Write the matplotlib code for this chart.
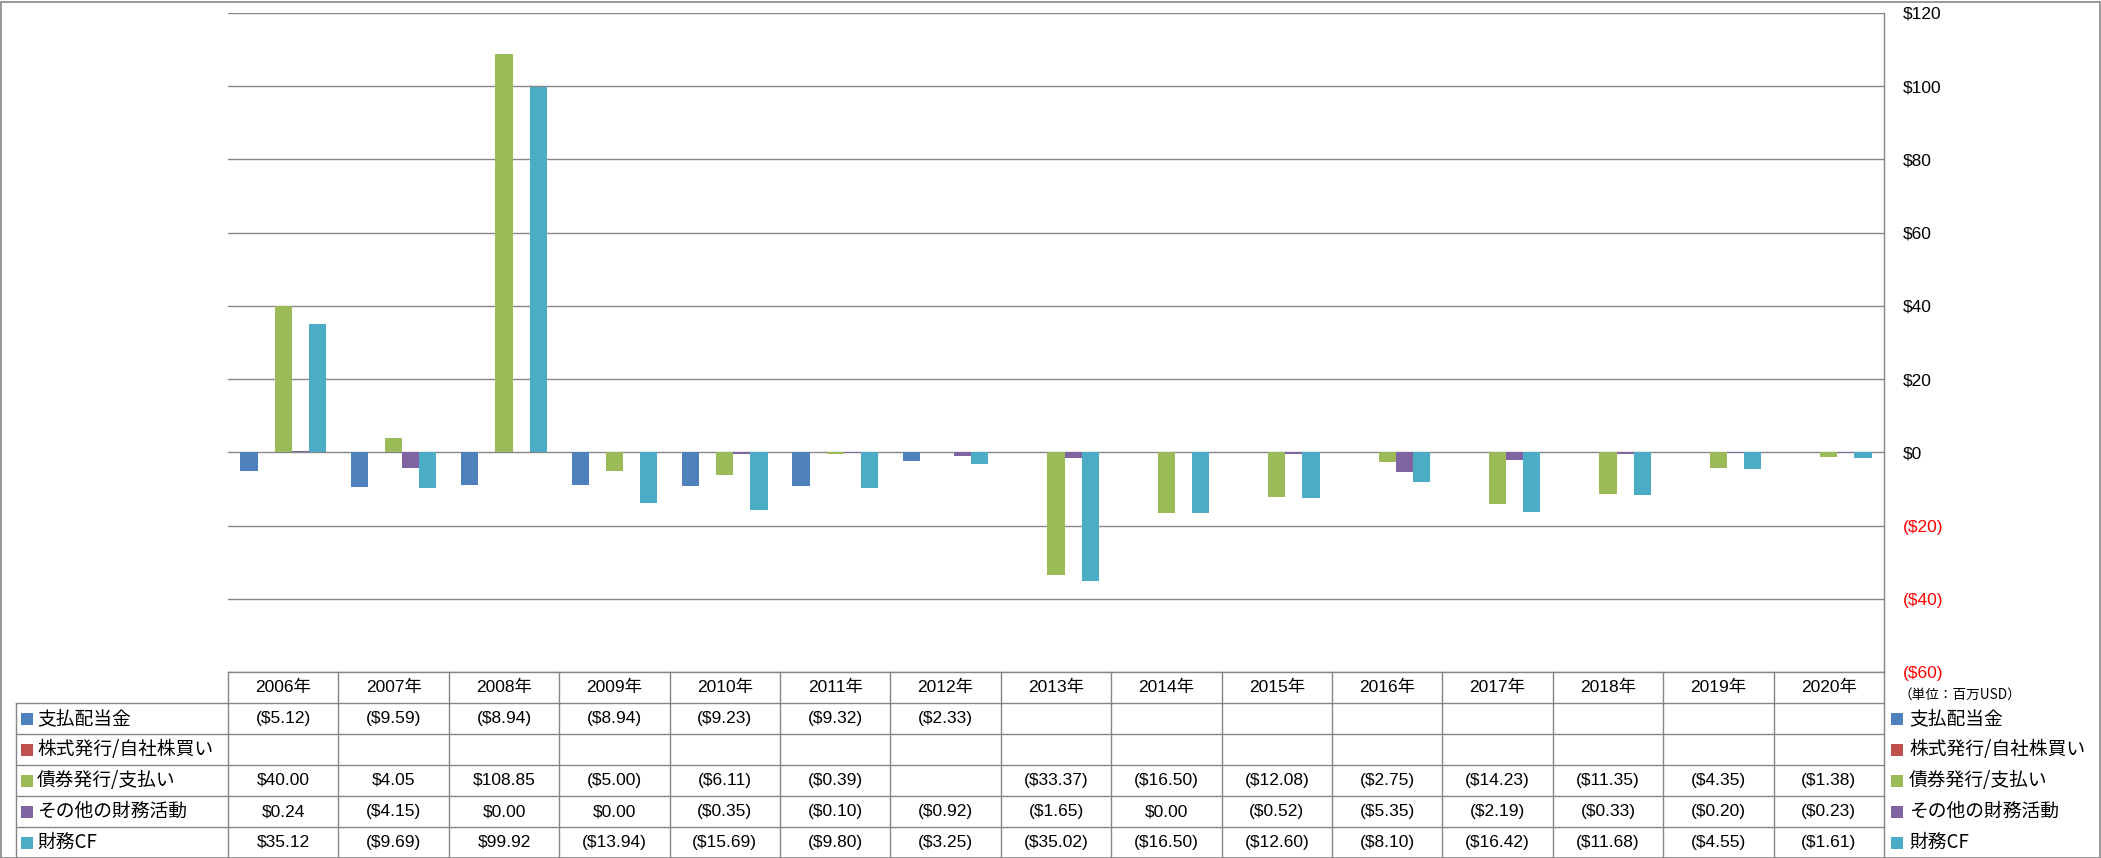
import numpy as np
import matplotlib
matplotlib.use("Agg")
import matplotlib.pyplot as plt
from matplotlib.ticker import FuncFormatter, MultipleLocator
from matplotlib.patches import Rectangle

plt.rcParams['font.family'] = ['Liberation Sans', 'Noto Sans CJK JP', 'DejaVu Sans']

years = ["2006年", "2007年", "2008年", "2009年", "2010年", "2011年", "2012年", "2013年",
         "2014年", "2015年", "2016年", "2017年", "2018年", "2019年", "2020年"]
series_names = ["支払配当金", "株式発行/自社株買い", "債券発行/支払い", "その他の財務活動", "財務CF"]
colors = ['#4F81BD', '#C0504D', '#9BBB59', '#8064A2', '#4BACC6']

N = None
dividends = [-5.12, -9.59, -8.94, -8.94, -9.23, -9.32, -2.33, N, N, N, N, N, N, N, N]
stock = [N] * 15
bonds = [40.00, 4.05, 108.85, -5.00, -6.11, -0.39, N, -33.37, -16.50, -12.08, -2.75,
         -14.23, -11.35, -4.35, -1.38]
other = [0.24, -4.15, 0.00, 0.00, -0.35, -0.10, -0.92, -1.65, 0.00, -0.52, -5.35,
         -2.19, -0.33, -0.20, -0.23]
fin_cf = [35.12, -9.69, 99.92, -13.94, -15.69, -9.80, -3.25, -35.02, -16.50, -12.60,
          -8.10, -16.42, -11.68, -4.55, -1.61]
all_series = [dividends, stock, bonds, other, fin_cf]

W, H = 2101, 858
GRID = '#868686'
fig = plt.figure(figsize=(W / 100, H / 100), dpi=100)

# pixel layout
px_left, px_right, px_top, px_axbot = 228, 1884, 13, 672
ax = fig.add_axes([px_left / W, (H - px_axbot) / H, (px_right - px_left) / W, (px_axbot - px_top) / H])
tab = fig.add_axes([px_left / W, 0, (px_right - px_left) / W, (H - px_axbot) / H])

n = len(years)
x = np.arange(n)
bw = 0.155
for i, (vals, c) in enumerate(zip(all_series, colors)):
    xs = [xi + (i - 2) * bw for xi, v in zip(x, vals) if v is not None]
    hs = [v for v in vals if v is not None]
    if hs:
        ax.bar(xs, hs, width=bw, color=c, zorder=3)

ax.set_xlim(-0.5, n - 0.5)
ax.set_ylim(-60, 120)
ax.yaxis.set_major_locator(MultipleLocator(20))
ax.yaxis.tick_right()
ax.yaxis.set_major_formatter(FuncFormatter(lambda v, p: f"(${abs(v):.0f})" if v < 0 else f"${v:.0f}"))
ax.tick_params(axis='y', length=0, pad=13.5, labelsize=12.5)
ax.set_xticks([])
for lab, v in zip(ax.get_yticklabels(), ax.get_yticks()):
    if v < 0:
        lab.set_color('#FF0000')
ax.grid(axis='y', color=GRID, lw=1.0, zorder=0)
for s in ['top', 'left', 'bottom']:
    ax.spines[s].set_visible(False)
ax.spines['right'].set_color(GRID)
ax.spines['right'].set_linewidth(1.0)

# data table
cw = (px_right - px_left) / n


def pxx(p):
    return (p - px_left) / cw - 0.5


tab.set_xlim(-0.5, n - 0.5)
tab.set_ylim(6, 0)
tab.axis('off')
xl = pxx(16)
lk = dict(color=GRID, lw=1.0, clip_on=False)
tab.plot([-0.5, n - 0.5], [0, 0], **lk)
for r in range(1, 7):
    tab.plot([xl, n - 0.5], [r, r], **lk)
for k in range(n + 1):
    tab.plot([k - 0.5, k - 0.5], [0, 6], **lk)
tab.plot([xl, xl], [1, 6], **lk)

for j, yr in enumerate(years):
    tab.text(j, 0.5, yr, ha='center', va='center', fontsize=12.5)


def fmt(v):
    if v is None:
        return ""
    return f"(${abs(v):.2f})" if v < 0 else f"${v:.2f}"


for r, (name, vals, c) in enumerate(zip(series_names, all_series, colors), start=1):
    tab.plot([pxx(26.5)], [r + 0.5], marker='s', ms=8, color=c, mew=0, clip_on=False)
    tab.text(pxx(37), r + 0.5, name, ha='left', va='center', fontsize=13.5,
             family=['Noto Sans CJK JP'])
    for j, v in enumerate(vals):
        tab.text(j, r + 0.5, fmt(v), ha='center', va='center', fontsize=12.5)
    # legend on the right
    tab.plot([pxx(1897.5)], [r + 0.5], marker='s', ms=8, color=c, mew=0, clip_on=False)
    tab.text(pxx(1909), r + 0.5, name, ha='left', va='center', fontsize=13.5,
             family=['Noto Sans CJK JP'], clip_on=False)

tab.text(pxx(1899), 0.72, "（単位：百万USD）", ha='left', va='center', fontsize=9.8,
         family=['Noto Sans CJK JP'], clip_on=False)

fig.patches.append(Rectangle((0.5 / W, 0.5 / H), (W - 2) / W, (H - 2) / H, transform=fig.transFigure,
                             fill=False, edgecolor=GRID, lw=1.2))

fig.savefig("out.png", dpi=100)
